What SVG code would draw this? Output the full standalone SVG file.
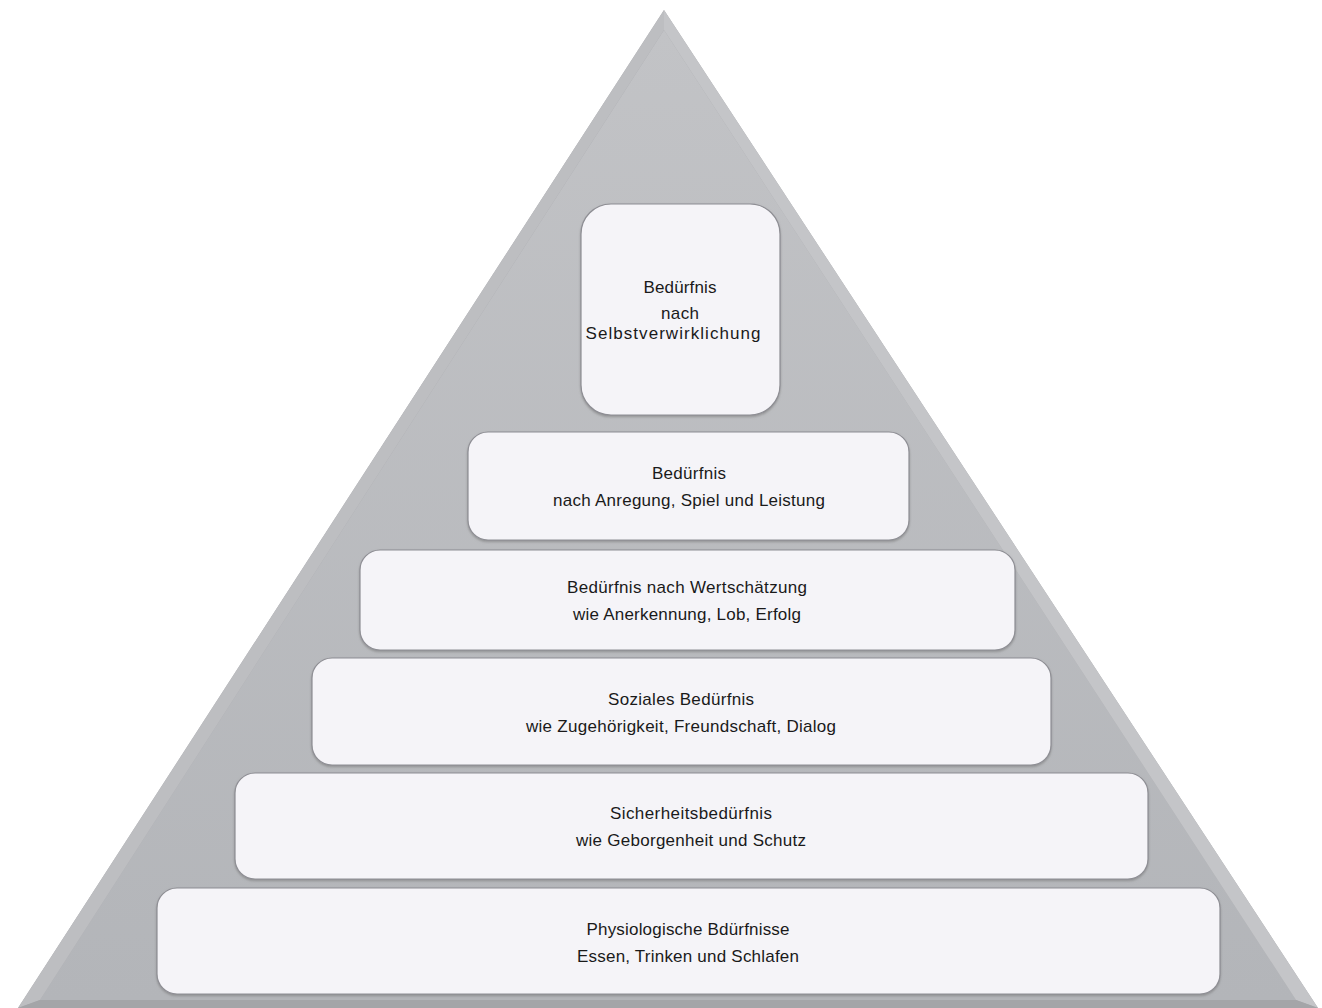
<svg xmlns="http://www.w3.org/2000/svg" width="1322" height="1008" viewBox="0 0 1322 1008">
<style>
.box{fill:#f5f4f8;stroke:#8e8e94;stroke-width:1.2}
.t{font-family:"Liberation Sans",Arial,sans-serif;font-size:17px;fill:#1a1a1a;text-anchor:middle}
</style>
<defs>
<linearGradient id="g" x1="0" y1="0" x2="0" y2="1">
<stop offset="0" stop-color="#c2c3c6"/>
<stop offset="1" stop-color="#b3b5b9"/>
</linearGradient>
<filter id="sh" x="-5%" y="-5%" width="110%" height="115%">
<feDropShadow dx="0" dy="1.5" stdDeviation="1" flood-color="#777" flood-opacity="0.6"/>
</filter>
</defs>
<g id="pyramid">
<polygon points="664,10 1318,1008 18,1008" fill="#a9aaad"/>
<polygon points="664,30 1296,1000 40,1000" fill="url(#g)"/>
<polygon points="664,10 664,30 40,1000 18,1008" fill="#bdbec1"/>
<polygon points="664,10 1318,1008 1296,1000 664,30" fill="#c4c5c8"/>
<polygon points="18,1008 40,1000 1296,1000 1318,1008" fill="#a4a5a8"/>
</g>
<g id="level6">
<rect class="box" x="157" y="888" width="1063" height="106" rx="20" filter="url(#sh)"/>
<text class="t" x="688" y="935" textLength="203">Physiologische Bdürfnisse</text>
<text class="t" x="688" y="962" textLength="222">Essen, Trinken und Schlafen</text>
</g>
<g id="level5">
<rect class="box" x="235" y="773" width="913" height="106" rx="20" filter="url(#sh)"/>
<text class="t" x="691" y="819" textLength="162">Sicherheitsbedürfnis</text>
<text class="t" x="691" y="846" textLength="230">wie Geborgenheit und Schutz</text>
</g>
<g id="level4">
<rect class="box" x="312" y="658" width="739" height="107" rx="20" filter="url(#sh)"/>
<text class="t" x="681" y="705" textLength="146">Soziales Bedürfnis</text>
<text class="t" x="681" y="732" textLength="310">wie Zugehörigkeit, Freundschaft, Dialog</text>
</g>
<g id="level3">
<rect class="box" x="360" y="550" width="655" height="100" rx="20" filter="url(#sh)"/>
<text class="t" x="687" y="593" textLength="240">Bedürfnis nach Wertschätzung</text>
<text class="t" x="687" y="620" textLength="228">wie Anerkennung, Lob, Erfolg</text>
</g>
<g id="level2">
<rect class="box" x="468" y="432" width="441" height="108" rx="20" filter="url(#sh)"/>
<text class="t" x="689" y="479" textLength="74">Bedürfnis</text>
<text class="t" x="689" y="506" textLength="272">nach Anregung, Spiel und Leistung</text>
</g>
<g id="level1">
<rect class="box" x="581" y="204" width="199" height="211" rx="30" filter="url(#sh)"/>
<text class="t" x="680" y="293" textLength="73">Bedürfnis</text>
<text class="t" x="680" y="319" textLength="38">nach</text>
<text class="t" x="673" y="339" textLength="175">Selbstverwirklichung</text>
</g>
<g id="connectors"/>
</svg>
